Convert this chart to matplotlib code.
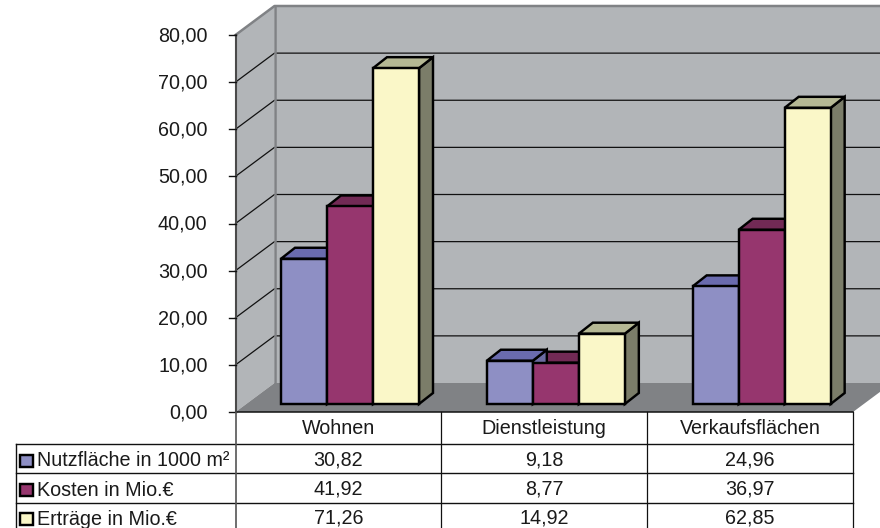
import matplotlib
matplotlib.use("Agg")
import matplotlib.pyplot as plt
from matplotlib.patches import Polygon, Rectangle

plt.rcParams['font.family'] = ['Liberation Sans', 'DejaVu Sans']

categories = ["Wohnen", "Dienstleistung", "Verkaufsflächen"]
series_names = ["Nutzfläche in 1000 m²", "Kosten in Mio.€", "Erträge in Mio.€"]
nutzflaeche = [30.82, 9.18, 24.96]
kosten = [41.92, 8.77, 36.97]
ertraege = [71.26, 14.92, 62.85]
y_ticks = [0, 10, 20, 30, 40, 50, 60, 70, 80]

front_colors = ["#8e8fc4", "#96366e", "#faf7c8"]
top_colors = ["#6a6bae", "#722a55", "#b5b894"]
side_colors = ["#6a6ba0", "#6a2650", "#7b7d69"]
WALL = "#b2b5b8"
FLOOR = "#808285"
EDGE = "#808285"
AXIS = "#4a4a4a"
TEXT = "#1a1a1a"
FS = 14.2
BAR_LW = 1.75

W, H = 880, 528
X0, CAT_W = 235.5, 205.83      # left edge and width of a category, px
Y0, PX_PER = 412.0, 4.7125     # baseline row and pixels per value unit

fig = plt.figure(figsize=(W / 100, H / 100), dpi=100)
ax = fig.add_axes([0, 0, 1, 1])
ax.set_xlim(-X0 / CAT_W, (W - X0) / CAT_W)
ax.set_ylim((Y0 - H) / PX_PER, Y0 / PX_PER)
ax.axis("off")

def ux(px):
    return px / CAT_W

def uy(px):
    return px / PX_PER

def px_x(px):
    return (px - X0) / CAT_W

def px_y(py):
    return (Y0 - py) / PX_PER

# depth of the box: wall offset and bar offset
DX, DY = ux(39), uy(29)
BDX, BDY = ux(14), uy(11)
BASE = uy(8)
BAR_W = ux(46)
GROUP_START = ux(45.5)
TOP_V = y_ticks[-1]
RIGHT = px_x(W)
FRONT_R = 3.0

# side wall, back wall and floor
ax.add_patch(Polygon([(0, 0), (DX, DY), (DX, TOP_V + DY), (0, TOP_V)], fc=WALL, ec="none", zorder=1))
ax.add_patch(Polygon([(DX, DY), (RIGHT, DY), (RIGHT, TOP_V + DY), (DX, TOP_V + DY)], fc=WALL, ec="none", zorder=1))
ax.add_patch(Polygon([(0, 0), (FRONT_R, 0), (FRONT_R + DX, DY), (DX, DY)], fc=FLOOR, ec="none", zorder=2, clip_on=True))

# gridlines across both walls
for v in y_ticks[1:-1]:
    ax.plot([0, DX, RIGHT], [v, v + DY, v + DY], color="#111111", lw=0.9, zorder=3, solid_joinstyle="miter")
ax.plot([DX, DX], [DY, TOP_V + DY], color=EDGE, lw=1.8, zorder=3)
ax.plot([0, DX, RIGHT], [TOP_V, TOP_V + DY, TOP_V + DY], color=EDGE, lw=1.8, zorder=3)

# value axis with tick marks and labels
ax.plot([0, 0], [0, TOP_V], color=AXIS, lw=1.5, zorder=4)
for v in y_ticks:
    ax.plot([-ux(7), 0], [v, v], color="#111111", lw=1.0, zorder=4)
    ax.text(-ux(28), v - uy(1), f"{v:.2f}".replace(".", ","), ha="right", va="center",
            fontsize=FS, color=TEXT)
ax.plot([0, FRONT_R], [0, 0], color="#111111", lw=1.1, zorder=4)

# 3D columns: back faces first, front faces last
all_series = [nutzflaeche, kosten, ertraege]
for s in (2, 1, 0):
    for c, val in enumerate(all_series[s]):
        left = c + GROUP_START + s * BAR_W
        right = left + BAR_W
        top = BASE + val
        ax.add_patch(Polygon([(right, BASE), (right + BDX, BASE + BDY), (right + BDX, top + BDY), (right, top)],
                             fc=side_colors[s], ec="black", lw=BAR_LW, zorder=5 + (2 - s) * 0.1, joinstyle="miter"))
        ax.add_patch(Polygon([(left, top), (right, top), (right + BDX, top + BDY), (left + BDX, top + BDY)],
                             fc=top_colors[s], ec="black", lw=BAR_LW, zorder=5 + (2 - s) * 0.1, joinstyle="miter"))
for s, values in enumerate(all_series):
    xs = [c + GROUP_START + s * BAR_W for c in range(len(categories))]
    ax.bar(xs, values, width=BAR_W, bottom=BASE, align="edge", color=front_colors[s],
           edgecolor="black", linewidth=BAR_LW, zorder=6)

# data table below the plot
rows_px = [412, 444, 473, 502.5, 531.5]
TABLE_L = px_x(16)
for py in rows_px[1:]:
    ax.plot([TABLE_L, FRONT_R], [px_y(py)] * 2, color="#111111", lw=1.0, zorder=4)
ax.plot([TABLE_L, TABLE_L], [px_y(rows_px[1]), px_y(rows_px[-1])], color="#111111", lw=1.0, zorder=4)
ax.plot([0, 0], [px_y(rows_px[-1]), 0], color="#555555", lw=1.2, zorder=4)
for c in (1, 2, 3):
    ax.plot([c, c], [px_y(rows_px[-1]), 0], color="#111111", lw=0.9, zorder=4)

for c, name in enumerate(categories):
    ax.text(c + 0.5, px_y(429), name, ha="center", va="center", fontsize=FS, color=TEXT)
for r, (name, values) in enumerate(zip(series_names, all_series)):
    yc = (rows_px[r + 1] + rows_px[r + 2]) / 2 + 1
    ax.add_patch(Rectangle((px_x(20.5), px_y(yc + 7)), ux(13), uy(12), fc=front_colors[r],
                           ec="black", lw=BAR_LW, zorder=6))
    ax.text(px_x(37.5), px_y(yc + 1.5), name, ha="left", va="center", fontsize=FS, color=TEXT)
    for c, v in enumerate(values):
        ax.text(c + 0.5, px_y(yc), f"{v:.2f}".replace(".", ","), ha="center", va="center",
                fontsize=FS, color=TEXT)

fig.savefig("out.png", dpi=100, facecolor="white")
